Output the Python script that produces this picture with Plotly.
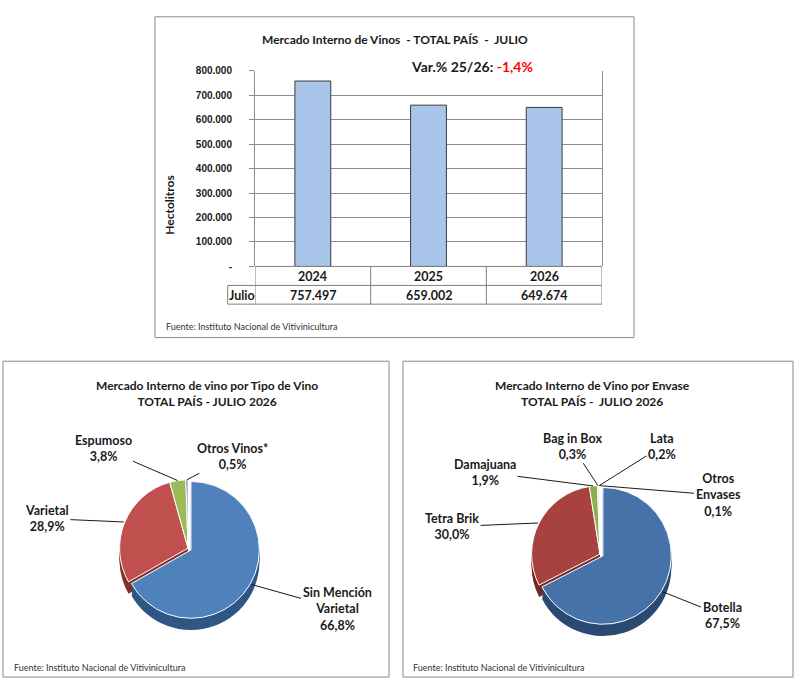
import math
import plotly.graph_objects as go

# ---------------- data ----------------
years = ["2024", "2025", "2026"]
hl_julio = [757497, 659002, 649674]
y_tickvals = [0, 100000, 200000, 300000, 400000, 500000, 600000, 700000, 800000]
y_ticktext = ["-", "100.000", "200.000", "300.000", "400.000", "500.000",
              "600.000", "700.000", "800.000"]
row_label = "Julio"

tipo_labels = ["Sin Mención Varietal", "Varietal", "Espumoso", "Otros Vinos*"]
tipo_pct = [66.8, 28.9, 3.8, 0.5]

envase_labels = ["Botella", "Tetra Brik", "Damajuana", "Bag in Box", "Lata", "Otros Envases"]
envase_pct = [67.5, 30.0, 1.9, 0.3, 0.2, 0.1]

# ---------------- helpers ----------------
W, H = 797, 687
FONT = "Lato"


def px(x):
    return x / W


def py(y):
    return 1 - y / H


def fmt_thousands(v):
    return f"{v:,}".replace(",", ".")


def fmt_pct(v):
    return f"{v:.1f}".replace(".", ",") + "%"


def note(x, y, text, size=12, xanchor="center", **kw):
    return dict(xref="paper", yref="paper", x=px(x), y=py(y), text=text, showarrow=False,
                xanchor=xanchor, yanchor="middle",
                font=dict(family=FONT, size=size, color="#1a1a1a"), **kw)


wrap = {"Sin Mención Varietal": "Sin Mención<br>Varietal", "Otros Envases": "Otros<br>Envases"}

fig = go.Figure()

# ---------------- bar chart ----------------
fig.add_trace(go.Bar(
    x=years, y=hl_julio, width=0.31,
    marker=dict(color="#A9C5EA", line=dict(color="#3a3a3a", width=1)),
    xaxis="x", yaxis="y", hoverinfo="skip", showlegend=False,
))

shapes = []
annotations = []

# panel frames
for (x0, y0, x1, y1) in [(155, 12, 634, 338), (3, 362, 389, 683), (403, 362, 793, 683)]:
    shapes.append(dict(type="rect", xref="paper", yref="paper",
                       x0=px(x0), x1=px(x1), y0=py(y1), y1=py(y0),
                       line=dict(color="#8a8a8a", width=1), fillcolor="rgba(0,0,0,0)", layer="below"))

# data table lines
tcol = "#7f7f7f"
PL, PR = 255, 602
y_axis0, y_row1, y_row2 = 265.7, 285, 304
for (xa, xb, yy) in [(PL, PR, y_axis0), (227.7, PR, y_row1), (227.7, PR, y_row2)]:
    shapes.append(dict(type="line", xref="paper", yref="paper", x0=px(xa), x1=px(xb),
                       y0=py(yy), y1=py(yy), line=dict(color=tcol, width=1)))
shapes.append(dict(type="line", xref="paper", yref="paper", x0=px(227.7), x1=px(227.7),
                   y0=py(y_row1), y1=py(y_row2), line=dict(color=tcol, width=1)))
for xv in [-0.5 + i for i in range(len(years) + 1)]:
    shapes.append(dict(type="line", xref="x", yref="paper", x0=xv, x1=xv,
                       y0=py(y_axis0), y1=py(y_row2), line=dict(color=tcol, width=1)))

cat_w = (PR - PL) / len(years)
for i, (yr, v) in enumerate(zip(years, hl_julio)):
    cxp = PL + (i + 0.5) * cat_w
    annotations.append(note(cxp, 276, f"<b>{yr}</b>", size=12.5))
    annotations.append(note(cxp, 295, f"<b>{fmt_thousands(v)}</b>", size=12.5))
annotations.append(note(241.5, 295, f"<b>{row_label}</b>", size=12.5))

# titles / notes top
annotations.append(note(395, 35, "<b>Mercado Interno de Vinos  - TOTAL PAÍS  -  JULIO</b>", size=12))
var = (hl_julio[2] / hl_julio[1] - 1) * 100
annotations.append(note(472, 63,
                        f"<b>Var.% 25/26: <span style='color:#FF0000'>{fmt_pct(var)}</span></b>",
                        size=14, bgcolor="white", borderpad=2))
annotations.append(note(170, 203, "<b>Hectolitros</b>", size=12, textangle=-90))
fuente = "Fuente: Instituto Nacional de Vitivinicultura"
for (fx, fy) in [(164, 327), (12, 673), (411, 673)]:
    a = note(fx, fy, fuente, size=9, xanchor="left")
    a["font"]["color"] = "#333333"
    annotations.append(a)

# pie titles
annotations.append(note(207, 395, "<b>Mercado Interno de vino por Tipo de Vino<br>TOTAL PAÍS - JULIO 2026</b>",
                        size=12))
annotations.append(note(592, 395, "<b>Mercado Interno de Vino por Envase<br>TOTAL PAÍS -  JULIO 2026</b>",
                        size=12))


# ---------------- pies ----------------
def add_pie(labels, vals, top_colors, side_colors, cx, cy, D, pulls, label_pos):
    depth_steps = [12, 10, 8, 6, 4, 2]
    for d in depth_steps:
        fig.add_trace(go.Pie(
            labels=labels, values=vals, sort=False, direction="clockwise", rotation=0,
            pull=pulls, textinfo="none", hoverinfo="skip", showlegend=False,
            marker=dict(colors=side_colors, line=dict(width=0)),
            domain=dict(x=[px(cx - D / 2), px(cx + D / 2)],
                        y=[py(cy + D / 2 + d), py(cy - D / 2 + d)]),
        ))
    fig.add_trace(go.Pie(
        labels=labels, values=vals, sort=False, direction="clockwise", rotation=0,
        pull=pulls, textinfo="none", hoverinfo="skip", showlegend=False,
        marker=dict(colors=top_colors, line=dict(color="white", width=1)),
        domain=dict(x=[px(cx - D / 2), px(cx + D / 2)], y=[py(cy + D / 2), py(cy - D / 2)]),
    ))
    total = sum(vals)
    r = (D / 2) / (1 + max(pulls))
    cum = 0.0
    for lab, v, p, (lx, ly) in zip(labels, vals, pulls, label_pos):
        mid = (cum + v / 2) / total * 2 * math.pi
        cum += v
        dx, dy = math.sin(mid), -math.cos(mid)
        ox, oy = cx + p * r * dx, cy + p * r * dy
        tx, ty = ox + r * dx, oy + r * dy
        annotations.append(dict(
            xref="paper", yref="paper", x=px(tx), y=py(ty), ax=lx - tx, ay=ly - ty,
            axref="pixel", ayref="pixel",
            text=f"<b>{wrap.get(lab, lab)}<br>{fmt_pct(v)}</b>",
            showarrow=True, arrowhead=0, arrowwidth=1, arrowcolor="#1a1a1a", standoff=0,
            font=dict(family=FONT, size=12.5, color="#1a1a1a"),
        ))


add_pie(tipo_labels, tipo_pct,
        ["#4F81BD", "#C0504D", "#9BBB59", "#8064A2"],
        ["#2E5785", "#84302E", "#6A8A38", "#57457A"],
        188, 552, 146, [0.05, 0, 0, 0],
        [(337, 613), (47, 522), (103, 451), (232, 459)])

add_pie(envase_labels, envase_pct,
        ["#4672AA", "#A8423F", "#8DB04E", "#8064A2", "#7F7F7F", "#F79646"],
        ["#2A4A74", "#722A28", "#627E32", "#57457A", "#555555", "#B56A2C"],
        600, 558, 146, [0.05, 0, 0, 0, 0, 0],
        [(722, 620), (452, 530), (485, 475), (572, 449), (662, 449), (718, 498)])

fig.update_layout(
    width=W, height=H, margin=dict(l=0, r=0, t=0, b=0),
    paper_bgcolor="white", plot_bgcolor="white", separators=",.",
    showlegend=False, font=dict(family=FONT),
    xaxis=dict(domain=[px(PL), px(PR)], type="category", range=[-0.5, 2.5],
               showticklabels=False, showgrid=False, zeroline=False, showline=False),
    yaxis=dict(domain=[py(265.7), py(66.7)], range=[0, 800000],
               tickvals=y_tickvals, ticktext=y_ticktext,
               tickfont=dict(family="Liberation Sans", size=10, color="#1a1a1a", weight="bold"),
               showgrid=True, gridcolor="#8c8c8c", gridwidth=1, zeroline=False,
               showline=True, linecolor="#8c8c8c", mirror=True,
               ticks="outside", ticklen=5, tickcolor="#8c8c8c", ticklabelstandoff=15),
    shapes=shapes, annotations=annotations,
)

fig.write_html("out.html", config={"displayModeBar": False},
               post_script="document.body.style.margin='0px';")
